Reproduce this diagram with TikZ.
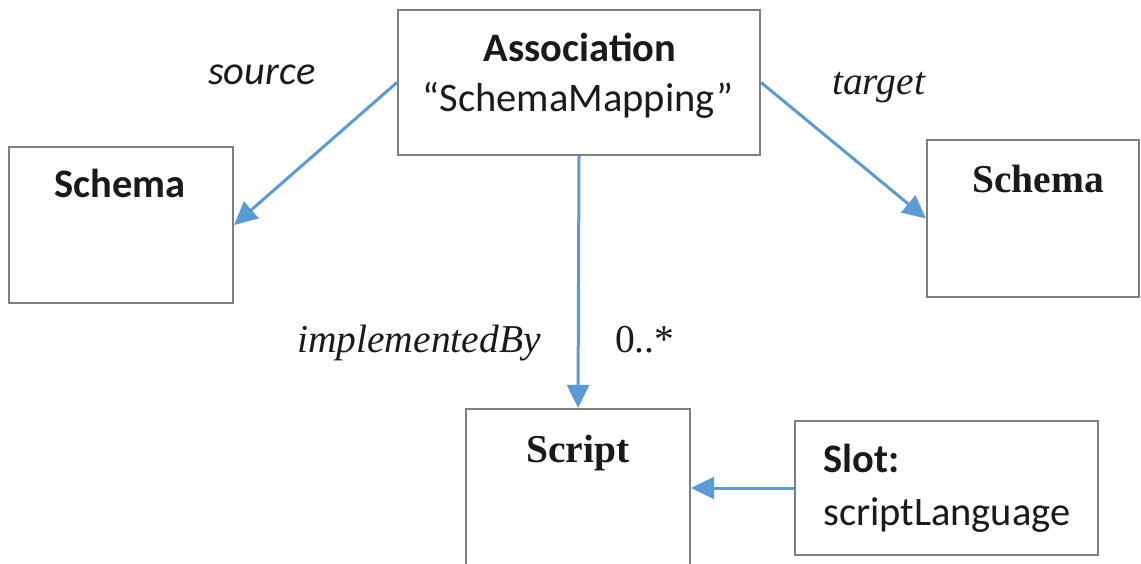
\documentclass[tikz,border=0pt]{standalone}
\usepackage{fontspec}
\setmainfont{Liberation Serif}
\newfontfamily\calibri{Carlito}
\usetikzlibrary{arrows.meta}
\definecolor{linkblue}{HTML}{5B9BD5}
\definecolor{boxgrey}{HTML}{7F7F7F}
\definecolor{ink}{HTML}{1A1A1A}
\tikzset{
  box/.style={draw=boxgrey, line width=2.2pt, fill=white, inner sep=0pt},
  link/.style={draw=linkblue, line width=3pt, -{Triangle[length=23pt,width=22pt]}},
  lbl/.style={inner sep=0pt, text=ink},
  cal/.style={lbl, font=\calibri\fontsize{40.5}{46}\selectfont},
  calb/.style={lbl, font=\calibri\bfseries\fontsize{40.5}{46}\selectfont},
  calit/.style={lbl, font=\calibri\itshape\fontsize{40.5}{46}\selectfont},
  tms/.style={lbl, font=\fontsize{39.5}{45}\selectfont},
  tmsb/.style={lbl, font=\bfseries\fontsize{39.5}{45}\selectfont},
  tmsit/.style={lbl, font=\itshape\fontsize{39.5}{45}\selectfont},
}
\begin{document}
\begin{tikzpicture}[x=1pt,y=-1pt]
  \useasboundingbox (0,0) rectangle (1141,564);
  \begin{scope}
    \clip (0,0) rectangle (1141,564);
    % boxes
    \node[box, minimum width=362pt, minimum height=145pt] (assoc) at (579,82.5) {};
    \node[box, minimum width=224pt, minimum height=156pt] (schemaL) at (121,225) {};
    \node[box, minimum width=212pt, minimum height=157pt] (schemaR) at (1033,218.5) {};
    \node[box, minimum width=224pt, minimum height=158pt] (script) at (578,488) {};
    \node[box, minimum width=303pt, minimum height=134pt] (slot) at (946.5,488) {};
  \end{scope}
  % box contents
  \node[calb, anchor=base] (assocT) at (580,62) {Association};
  \node[cal, anchor=base] (assocN) at (578,112) {“SchemaMapping”};
  \node[calb, anchor=base] (schemaLT) at (120,198) {Schema};
  \node[tmsb, anchor=base] (schemaRT) at (1038,193) {Schema};
  \node[tmsb, anchor=base] (scriptT) at (578,462) {Script};
  \node[calb, anchor=base west] (slotT) at (823,472) {Slot:};
  \node[cal, anchor=base west] (slotN) at (823,525) {scriptLanguage};
  % connectors
  \draw[link] (assoc.west) -- (schemaL.east);
  \draw[link] (assoc.east) -- (schemaR.west);
  \draw[link] (assoc.south) -- (script.north);
  \draw[link] (slot.west) -- (script.east);
  % role labels
  \node[calit, anchor=base west] (srcL) at (208,85) {source};
  \node[tmsit, anchor=base west] (tgtL) at (832,95) {target};
  \node[tmsit, anchor=base west] (implL) at (297,352) {implementedBy};
  \node[tms, anchor=base west] (multL) at (615,352) {0..*};
\end{tikzpicture}
\end{document}
